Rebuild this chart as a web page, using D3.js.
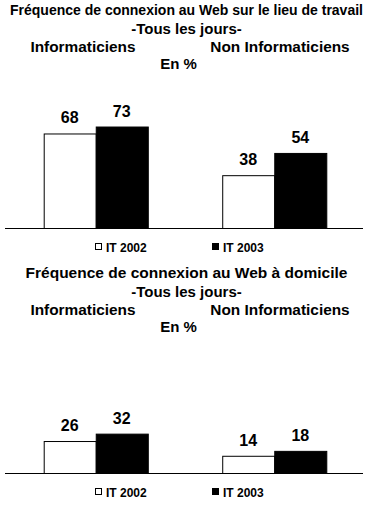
<!DOCTYPE html>
<html>
<head>
<meta charset="utf-8">
<script src="https://cdn.jsdelivr.net/npm/d3@7"></script>
<style>
body { margin: 0; background: #fff; }
text { font-family: "Liberation Sans", Arial, sans-serif; font-weight: bold; fill: #000; }
</style>
</head>
<body>
<svg id="svg"></svg>
<script>
var width = 373, height = 510;

var categories = ["Informaticiens", "Non Informaticiens"];
var series = ["IT 2002", "IT 2003"];
var travail2002 = [68, 38];
var travail2003 = [73, 54];
var domicile2002 = [26, 14];
var domicile2003 = [32, 18];
var titleTravail = "Fréquence de connexion au Web sur le lieu de travail";
var titleDomicile = "Fréquence de connexion au Web à domicile";
var subTitle = "-Tous les jours-";
var unitLabel = "En %";

var svg = d3.select("#svg")
	.attr("width", width)
	.attr("height", height);

var color = d3.scaleOrdinal()
	.domain(series)
	.range(["#fff", "#000"]);

var x0 = d3.scaleBand()
	.domain(categories)
	.range([8, 362])
	.paddingInner(0.417)
	.paddingOuter(0.2);
var x1 = d3.scaleBand()
	.domain(series)
	.range([0, x0.bandwidth()]);

function panel(top, title, titleSize, v2002, v2003, base, pxPerUnit, legendY)
{
	var g = svg.append("g");
	g.append("text")
		.attr("x", width / 2)
		.attr("y", top)
		.attr("text-anchor", "middle")
		.style("font-size", titleSize + "px")
		.text(title);
	g.append("text")
		.attr("x", width / 2)
		.attr("y", top + 18.5)
		.attr("text-anchor", "middle")
		.style("font-size", "15px")
		.text(subTitle);
	g.selectAll(".cat")
		.data(categories)
		.enter()
		.append("text")
		.attr("x", function(d, i) { return i == 0 ? 83 : 280; })
		.attr("y", top + 37)
		.attr("text-anchor", "middle")
		.style("font-size", "15.4px")
		.text(function(d) { return d; });
	g.append("text")
		.attr("x", 178.5)
		.attr("y", top + 54)
		.attr("text-anchor", "middle")
		.style("font-size", "15px")
		.text(unitLabel);

	var y = d3.scaleLinear()
		.domain([0, 100])
		.range([base, base - 100 * pxPerUnit]);

	var data = categories.map(function(c, i) {
		return { cat: c, values: [
			{ s: series[0], v: v2002[i] },
			{ s: series[1], v: v2003[i] }
		]};
	});

	var grp = g.selectAll(".grp")
		.data(data)
		.enter()
		.append("g")
		.attr("transform", function(d) { return "translate(" + x0(d.cat) + ",0)"; });
	grp.selectAll("rect")
		.data(function(d) { return d.values; })
		.enter()
		.append("rect")
		.attr("x", function(d) { return x1(d.s) + 0.5; })
		.attr("y", function(d) { return y(d.v) + 0.5; })
		.attr("width", x1.bandwidth())
		.attr("height", function(d) { return y(0) - y(d.v); })
		.style("fill", function(d) { return color(d.s); })
		.style("stroke", "#000")
		.style("stroke-width", 1);
	grp.selectAll(".lbl")
		.data(function(d) { return d.values; })
		.enter()
		.append("text")
		.attr("x", function(d) { return x1(d.s) + x1.bandwidth() / 2; })
		.attr("y", function(d) { return y(d.v) - 10; })
		.attr("text-anchor", "middle")
		.style("font-size", "16px")
		.text(function(d) { return d.v; });

	g.append("line")
		.attr("x1", 5)
		.attr("x2", 363)
		.attr("y1", y(0) + 0.5)
		.attr("y2", y(0) + 0.5)
		.style("stroke", "#000");

	var leg = g.selectAll(".leg")
		.data(series)
		.enter()
		.append("g")
		.attr("transform", function(d, i) { return "translate(" + (i == 0 ? 95 : 212) + "," + legendY + ")"; });
	leg.append("rect")
		.attr("x", 0.5)
		.attr("y", -3.5)
		.attr("width", 6)
		.attr("height", 6)
		.style("fill", function(d) { return color(d); })
		.style("stroke", "#000");
	leg.append("text")
		.attr("x", 11)
		.attr("y", 4.5)
		.style("font-size", "12px")
		.text(function(d) { return d; });
}

panel(15, titleTravail, 14, travail2002, travail2003, 228, 1.39, 247);
panel(278, titleDomicile, 15.5, domicile2002, domicile2003, 473, 1.23, 492);
</script>
</body>
</html>
